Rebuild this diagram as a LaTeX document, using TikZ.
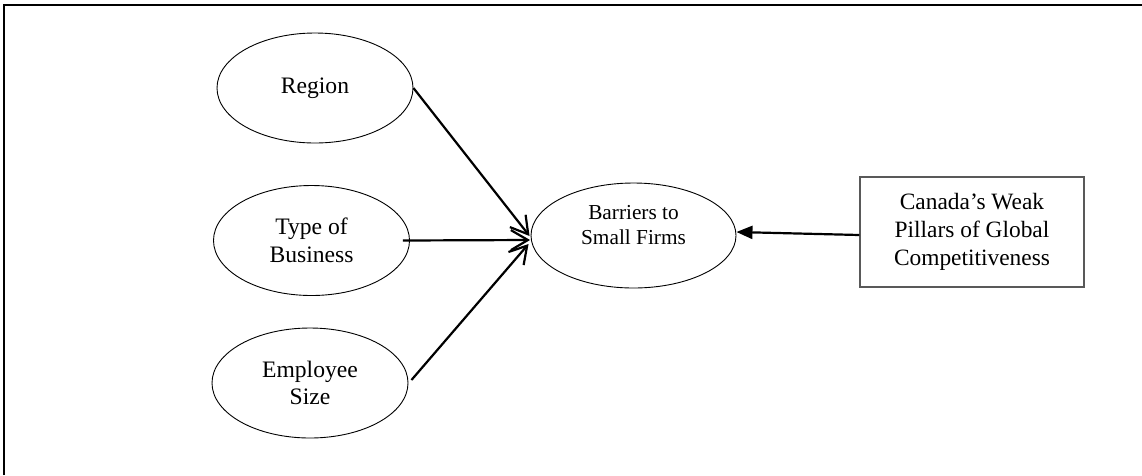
\documentclass[tikz,border=0pt]{standalone}
\usepackage{fontspec}
\setmainfont{Liberation Serif}
\usetikzlibrary{arrows.meta,shapes.geometric}

\begin{document}
\begin{tikzpicture}[x=1pt,y=-1pt,
  factor/.style={draw=black,line width=0.9pt,ellipse,inner sep=0pt,
    minimum width=196pt,minimum height=110pt,align=center,
    font=\fontsize{23.6pt}{27.6pt}\selectfont},
  outcome/.style={draw=black,line width=0.9pt,ellipse,inner sep=0pt,
    minimum width=205pt,minimum height=105pt},
  outcometext/.style={align=center,inner sep=0pt,
    font=\fontsize{21.3pt}{25pt}\selectfont},
  pillarbox/.style={draw=black!65,line width=1.3pt,rectangle,inner sep=0pt,
    minimum width=224pt,minimum height=110pt,align=center,
    font=\fontsize{23.4pt}{27.8pt}\selectfont},
  link/.style={line width=2.2pt,-{Straight Barb[length=17pt,width=20pt,line width=2.2pt]}},
  pull/.style={line width=2.2pt,-{Triangle[length=16pt,width=13pt]}}]

% page extent and the open frame (top and left edges)
\useasboundingbox (0,0) rectangle (1142,475);
\draw[line width=2pt] (4.3,475) -- (4.3,5) -- (1142,5);

% determinants on the left
\node[factor] (reg) at (315,88)    {Region};
\node[factor] (tob) at (311.5,240.5) {Type of\\Business};
\node[factor] (emp) at (310,383)   {Employee\\Size};

% central outcome
\node[outcome] (bar) at (633.5,235.5) {};
\node[outcometext] (bart) at (633.5,225) {Barriers to\\Small Firms};

% external driver
\node[pillarbox] (can) at (972,232) {Canada’s Weak\\Pillars of Global\\Competitiveness};

% connectors
\draw[link] (reg.east) -- ([xshift=-1pt,yshift=-0.5pt]bar.west);
\draw[link] ([xshift=-7pt]tob.east) -- ([xshift=-0.5pt,yshift=-4.5pt]bar.west);
\draw[link] ([xshift=3pt,yshift=3pt]emp.east) -- ([xshift=-2pt,yshift=-8.5pt]bar.west);
\draw[pull] ([yshift=-3pt]can.west) -- ([yshift=3.5pt]bar.east);
\end{tikzpicture}
\end{document}
